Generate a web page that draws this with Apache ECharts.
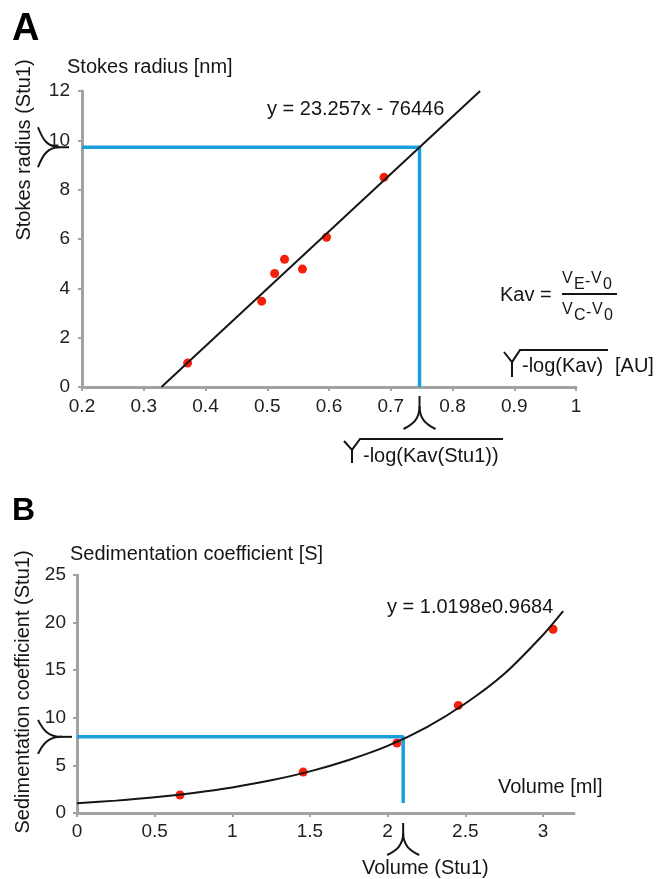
<!DOCTYPE html>
<html>
<head>
<meta charset="utf-8">
<title>Stokes radius and sedimentation coefficient</title>
<script src="https://cdn.jsdelivr.net/npm/echarts@6/dist/echarts.min.js"></script>
<style>
    html, body { margin: 0; padding: 0; background: #fff; }
    #chart { width: 659px; height: 879px; }
</style>
</head>
<body>
<div id="chart"></div>
<script>
    var FONT = '"Liberation Sans", Arial, Helvetica, sans-serif';
    var INK = '#151515';
    var AXIS = '#a2a2a2';
    var BLUE = '#1c9fdb';
    var RED = '#f5200a';

    // panel A : sqrt(-log(Kav)) vs Stokes radius
    var aKav = [0.371, 0.491, 0.512, 0.528, 0.557, 0.596, 0.689];
    var aRadius = [0.97, 3.48, 4.60, 5.18, 4.78, 6.07, 8.50];
    var aFitX = [0.3287, 0.8447];
    var aFitY = [0, 12];
    var aStu1 = [0.7466, 9.72];
    var aXTicks = [0.2, 0.3, 0.4, 0.5, 0.6, 0.7, 0.8, 0.9, 1];
    var aYTicks = [0, 2, 4, 6, 8, 10, 12];

    // panel B : volume vs sedimentation coefficient
    var bVolume = [0.663, 1.456, 2.06, 2.455, 3.065];
    var bSed = [1.89, 4.30, 7.35, 11.3, 19.3];
    // trend curve
    var bFitX = [0, 0.25, 0.5, 0.75, 1, 1.25, 1.5, 1.75, 2, 2.25, 2.5, 2.75, 3, 3.13];
    var bFitY = [1.02, 1.30, 1.65, 2.11, 2.69, 3.43, 4.37, 5.57, 7.05, 9.0, 11.5, 14.6, 18.7, 21.2];
    var bStu1 = [2.1, 8.0];
    var bStu1Floor = 1.05;
    var bXTicks = [0, 0.5, 1, 1.5, 2, 2.5, 3];
    var bXMax = 3.2;
    var bYTicks = [0, 5, 10, 15, 20, 25];

    function pairs(xs, ys) {
        return xs.map(function (x, i) { return [x, ys[i]]; });
    }

    function axis(grid, ticks, max, extra) {
        var o = {
            gridIndex: grid,
            type: 'value',
            min: ticks[0],
            max: max,
            axisLine: { show: true, onZero: false, lineStyle: { color: AXIS, width: 3 } },
            axisTick: { show: true, length: 4, customValues: ticks, lineStyle: { color: AXIS, width: 2 } },
            axisLabel: { customValues: ticks, fontSize: 19, color: '#222', fontFamily: FONT },
            splitLine: { show: false }
        };
        for (var k in extra) o.axisLabel[k] = extra[k];
        return o;
    }

    var chart = echarts.init(document.getElementById('chart'));
    chart.setOption({
        animation: false,
        backgroundColor: '#fff',
        grid: [
            { left: 82, top: 91, width: 494, height: 296 },
            { left: 77, top: 575, width: 497, height: 238 }
        ],
        xAxis: [
            axis(0, aXTicks, aXTicks[aXTicks.length - 1], { margin: 10 }),
            axis(1, bXTicks, bXMax, { margin: 9 })
        ],
        yAxis: [
            axis(0, aYTicks, aYTicks[aYTicks.length - 1], { margin: 12 }),
            axis(1, bYTicks, bYTicks[bYTicks.length - 1], { margin: 11 })
        ],
        series: [
            {
                type: 'line', xAxisIndex: 0, yAxisIndex: 0, symbol: 'none',
                lineStyle: { color: BLUE, width: 3.5 },
                data: [[aXTicks[0], aStu1[1]], [aStu1[0], aStu1[1]], [aStu1[0], 0]]
            },
            {
                type: 'line', xAxisIndex: 0, yAxisIndex: 0, symbol: 'none',
                lineStyle: { color: INK, width: 2 },
                data: pairs(aFitX, aFitY)
            },
            {
                type: 'scatter', xAxisIndex: 0, yAxisIndex: 0, symbolSize: 9,
                itemStyle: { color: RED, opacity: 1 },
                data: pairs(aKav, aRadius)
            },
            {
                type: 'line', xAxisIndex: 1, yAxisIndex: 1, symbol: 'none',
                lineStyle: { color: BLUE, width: 3.5 },
                data: [[bXTicks[0], bStu1[1]], [bStu1[0], bStu1[1]], [bStu1[0], bStu1Floor]]
            },
            {
                type: 'line', xAxisIndex: 1, yAxisIndex: 1, symbol: 'none', smooth: 0.3,
                lineStyle: { color: INK, width: 2 },
                data: pairs(bFitX, bFitY)
            },
            {
                type: 'scatter', xAxisIndex: 1, yAxisIndex: 1, symbolSize: 9,
                itemStyle: { color: RED, opacity: 1 },
                data: pairs(bVolume, bSed)
            }
        ]
    });

    // ---- annotations ----
    var pen = { stroke: INK, lineWidth: 2, fill: 'none' };

    function txt(x, y, s, size, extra) {
        var el = {
            type: 'text', x: x, y: y, z: 10,
            style: { text: s, fontSize: size, fontFamily: FONT, fill: INK, align: 'left', verticalAlign: 'middle' }
        };
        for (var k in extra) {
            if (k === 'rotation') el.rotation = extra[k];
            else el.style[k] = extra[k];
        }
        return el;
    }

    function seg(x1, y1, x2, y2) {
        return { type: 'line', z: 10, shape: { x1: x1, y1: y1, x2: x2, y2: y2 }, style: pen };
    }

    function curve(x1, y1, c1x, c1y, c2x, c2y, x2, y2) {
        return {
            type: 'bezierCurve', z: 10,
            shape: { x1: x1, y1: y1, cpx1: c1x, cpy1: c1y, cpx2: c2x, cpy2: c2y, x2: x2, y2: y2 },
            style: pen
        };
    }

    // brace under the x axis, tip pointing up
    function xBrace(cx, top, h, w) {
        var s = top + h * 0.3;
        return [
            seg(cx, top, cx, s),
            curve(cx, s, cx, top + h * 0.7, cx - w * 0.4, top + h * 0.85, cx - w, top + h),
            curve(cx, s, cx, top + h * 0.7, cx + w * 0.4, top + h * 0.85, cx + w, top + h)
        ];
    }

    // brace left of the y axis, tip pointing right
    function yBrace(tip, cy, len, half) {
        var s = tip - len * 0.3;
        return [
            seg(tip, cy, s, cy),
            curve(s, cy, tip - len * 0.7, cy, tip - len * 0.85, cy - half * 0.4, tip - len, cy - half),
            curve(s, cy, tip - len * 0.7, cy, tip - len * 0.85, cy + half * 0.4, tip - len, cy + half)
        ];
    }

    function radical(x, top, bottom, barEnd) {
        var join = top + (bottom - top) * 0.45;
        return [
            { type: 'polyline', z: 10, shape: { points: [[x, top + 2], [x + 8, join], [x + 8, bottom]] }, style: pen },
            { type: 'polyline', z: 10, shape: { points: [[x + 8, join], [x + 16, top], [barEnd, top]] }, style: pen }
        ];
    }

    var aX0 = chart.convertToPixel({ gridIndex: 0 }, [aStu1[0], 0]);
    var aY0 = chart.convertToPixel({ gridIndex: 0 }, [aXTicks[0], aStu1[1]]);
    var bX0 = chart.convertToPixel({ gridIndex: 1 }, [bStu1[0], 0]);
    var bY0 = chart.convertToPixel({ gridIndex: 1 }, [0, bStu1[1]]);

    var g = [
        txt(12, 30, 'A', 38, { fontWeight: 'bold', fill: '#000' }),
        txt(67, 67, 'Stokes radius [nm]', 20),
        txt(24, 150, 'Stokes radius (Stu1)', 20, { align: 'center', rotation: Math.PI / 2 }),
        txt(267, 109, 'y = 23.257x - 76446', 20),

        txt(500, 295, 'Kav =', 20),
        txt(562, 279, 'V', 16), txt(574, 285, 'E', 16), txt(585, 282, '-', 16),
        txt(591, 279, 'V', 16), txt(603, 285, '0', 16),
        seg(562, 294, 617, 294),
        txt(562, 310, 'V', 16), txt(574, 316, 'C', 16), txt(586, 313, '-', 16),
        txt(592, 310, 'V', 16), txt(604, 316, '0', 16),

        txt(522, 366, '-log(Kav)', 20),
        txt(615, 366, '[AU]', 20),
        txt(363, 456, '-log(Kav(Stu1))', 20),

        txt(12, 511, 'B', 32, { fontWeight: 'bold', fill: '#000' }),
        txt(70, 554, 'Sedimentation coefficient [S]', 20),
        txt(23, 692, 'Sedimentation coefficient (Stu1)', 20, { align: 'center', rotation: Math.PI / 2 }),
        txt(387, 607, 'y = 1.0198e0.9684', 20),
        txt(498, 787, 'Volume [ml]', 20),
        txt(362, 868, 'Volume (Stu1)', 20)
    ];

    g = g.concat(
        radical(504, 350, 377, 608),
        radical(344, 439, 463, 503),
        xBrace(aX0[0], aX0[1] + 9, 33, 16),
        yBrace(aY0[0] - 13, aY0[1], 31, 20),
        xBrace(bX0[0], bX0[1] + 10, 32, 16),
        yBrace(bY0[0] - 5, bY0[1], 34, 17)
    );

    chart.setOption({ graphic: g });
</script>
</body>
</html>
